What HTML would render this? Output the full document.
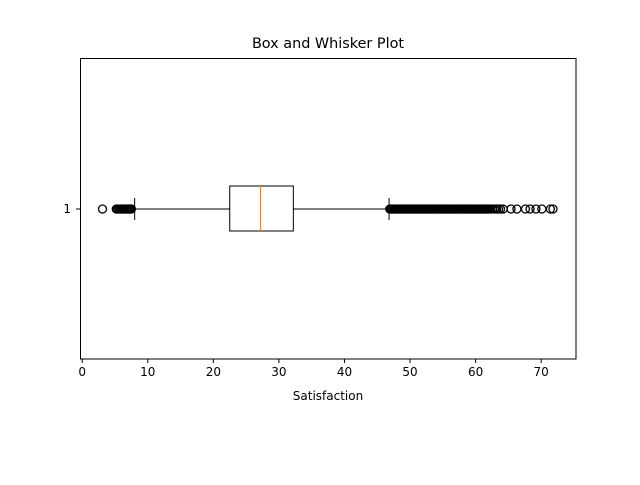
<!DOCTYPE html>
<html><head><meta charset="utf-8"><style>
body{margin:0;background:#fff;font-family:"Liberation Sans","DejaVu Sans",sans-serif;}
svg text{font-family:"DejaVu Sans","Liberation Sans",sans-serif;}
</style></head><body>
<svg id="chart" width="640" height="480" xmlns="http://www.w3.org/2000/svg">
<rect width="640" height="480" fill="#fff"/>
<text x="328" y="48" font-size="14.4" text-anchor="middle">Box and Whisker Plot</text>
<g id="plot"></g>
<rect x="80.5" y="58.5" width="495.5" height="300.5" fill="none" stroke="#000" stroke-width="1"/>
<text x="328" y="400" font-size="12" text-anchor="middle">Satisfaction</text>
</svg>
<script>
const xTicks=[0,10,20,30,40,50,60,70];
const stats={whiskerLow:8.0,q1:22.5,median:27.2,q3:32.2,whiskerHigh:46.8};
const outliersLow=[3.1,5.2,5.4,5.6,5.8,5.9,6.1,6.2,6.4,6.5,6.7,6.8,7.0,7.1,7.2,7.3,7.4,7.5];
const outliersHigh=[46.9,47.05,47.2,47.35,47.5,47.65,47.8,47.95,48.1,48.25,48.4,48.55,48.7,48.85,49.0,49.15,49.3,49.45,49.6,49.75,49.9,50.05,50.2,50.35,50.5,50.65,50.8,50.95,51.1,51.25,51.4,51.55,51.7,51.85,52.0,52.15,52.3,52.45,52.6,52.75,52.9,53.05,53.2,53.35,53.5,53.65,53.8,53.95,54.1,54.25,54.4,54.55,54.7,54.85,55.0,55.15,55.3,55.45,55.6,55.75,55.9,56.05,56.2,56.35,56.5,56.65,56.8,56.95,57.1,57.25,57.4,57.55,57.7,57.85,58.0,58.15,58.3,58.45,58.6,58.75,58.9,59.05,59.2,59.35,59.5,59.65,59.8,59.95,60.1,60.25,60.4,60.55,60.7,60.85,61.0,61.15,61.3,61.45,61.6,61.75,61.9,62.1,62.3,62.6,62.9,63.2,63.5,63.8,64.2,65.4,66.3,67.6,68.3,69.2,70.1,71.4,71.8];
const NS="http://www.w3.org/2000/svg";
const x=v=>82.2+v*6.557;
const yc=209, bottom=359;
const g=document.getElementById('plot');
function mk(t,a){const e=document.createElementNS(NS,t);for(const k in a)e.setAttribute(k,a[k]);g.appendChild(e);return e;}
xTicks.forEach(t=>{
 const l=mk('line',{x1:x(t),x2:x(t),y1:bottom,y2:bottom+4,stroke:'#000'});
 
 
 const tx=mk('text',{x:x(t),y:bottom+17,'font-size':12,'text-anchor':'middle'});tx.textContent=t;
 
 
});
const yt=mk('line',{x1:76,x2:80,y1:yc,y2:yc,stroke:'#000'});


const ytl=mk('text',{x:71,y:yc+4,'font-size':12,'text-anchor':'end'});ytl.textContent='1';


const w1=mk('line',{x1:x(stats.whiskerLow),x2:x(stats.q1),y1:yc,y2:yc,stroke:'#000'});


const w2=mk('line',{x1:x(stats.q3),x2:x(stats.whiskerHigh),y1:yc,y2:yc,stroke:'#000'});


const c1=mk('line',{x1:x(stats.whiskerLow),x2:x(stats.whiskerLow),y1:yc-11,y2:yc+11,stroke:'#000'});


const c2=mk('line',{x1:x(stats.whiskerHigh),x2:x(stats.whiskerHigh),y1:yc-11,y2:yc+11,stroke:'#000'});


const box=mk('rect',{x:x(stats.q1),y:yc-23,width:x(stats.q3)-x(stats.q1),height:45,fill:'none',stroke:'#000'});


const med=mk('line',{x1:x(stats.median),x2:x(stats.median),y1:yc-23,y2:yc+22,stroke:'#ff7f0e','stroke-width':1.2});


outliersLow.concat(outliersHigh).forEach(v=>{
 const c=mk('circle',{cx:x(v),cy:yc,r:4,fill:'none',stroke:'#000','stroke-width':1.3});
 
 
});
</script>
</body></html>
